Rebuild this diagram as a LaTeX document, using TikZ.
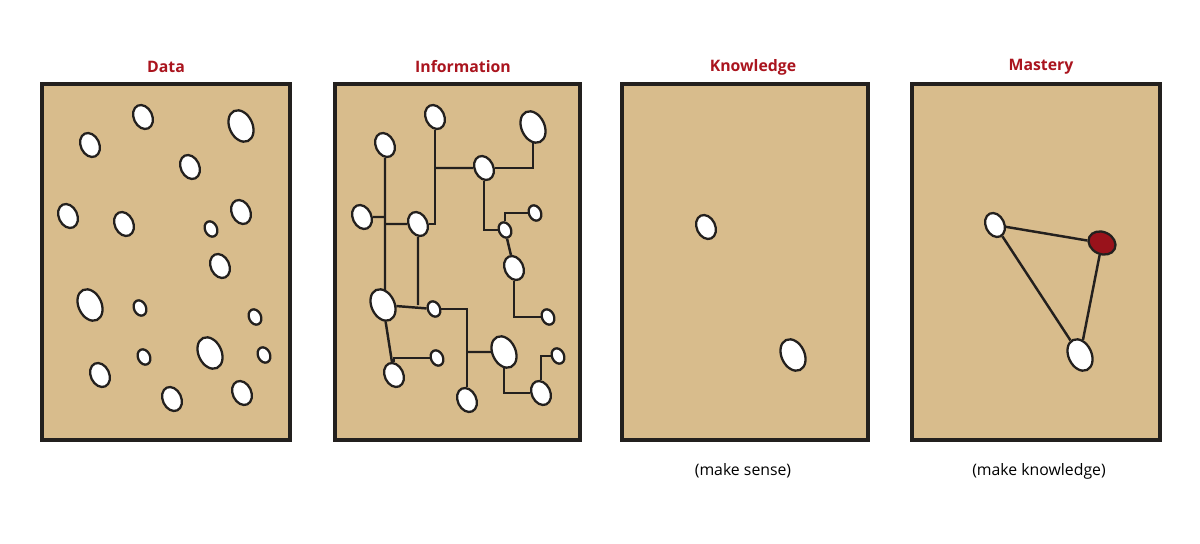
\documentclass[tikz,border=0pt]{standalone}
\usepackage{fontspec}
\setmainfont{Open Sans}
\usetikzlibrary{shapes.geometric}
\definecolor{paper}{RGB}{216,188,140}
\definecolor{titlered}{RGB}{170,20,30}
\definecolor{ink}{RGB}{35,32,30}
\pgfdeclarelayer{bg}
\pgfdeclarelayer{back}
\pgfsetlayers{bg,back,main}
\begin{document}
\begin{tikzpicture}[
    x=0.02cm, y=-0.02cm,
    panel/.style={fill=paper, draw=ink, line width=1.8pt},
    title/.style={font=\bfseries\small, text=titlered},
    caption/.style={font=\small},
    dot/.style={ellipse, draw=ink, line width=1.3pt, fill=white, inner sep=0pt,
        minimum width=0.37cm, minimum height=0.5cm, rotate=25},
    small dot/.style={dot, minimum width=0.24cm, minimum height=0.32cm},
    big dot/.style={dot, minimum width=0.46cm, minimum height=0.66cm},
    link/.style={draw=ink, line width=1.4pt}
    ]
    \useasboundingbox (0,0) rectangle (1200,544);
    % panels
    \begin{pgfonlayer}{bg}
    \draw[panel] (42,84) rectangle (290,440);
    \draw[panel] (335,84) rectangle (580,440);
    \draw[panel] (622,84) rectangle (868,440);
    \draw[panel] (912,84) rectangle (1160,440);
    \end{pgfonlayer}
    % titles
    \node[title] (tdata) at (166,67) {Data};
    \node[title] (tinfo) at (463,67) {Information};
    \node[title] (tknow) at (753,67) {Knowledge};
    \node[title] (tmast) at (1041,67) {Mastery};
    \node[caption] (csense) at (743,471) {(make sense)};
    \node[caption] (cknow) at (1039,471) {(make knowledge)};
    % Data
    \node[dot] (d1) at (90,145) {};
    \node[dot] (d2) at (143,117) {};
    \node[big dot] (d3) at (241,126) {};
    \node[dot] (d4) at (190,167) {};
    \node[dot] (d5) at (68,216) {};
    \node[dot] (d6) at (124,224) {};
    \node[dot] (d7) at (241,212) {};
    \node[small dot] (d8) at (211,229) {};
    \node[dot] (d9) at (220,266) {};
    \node[big dot] (d10) at (90,305) {};
    \node[small dot] (d11) at (140,308) {};
    \node[small dot] (d12) at (255,317) {};
    \node[big dot] (d13) at (210,353) {};
    \node[small dot] (d14) at (264,355) {};
    \node[small dot] (d15) at (144,357) {};
    \node[dot] (d16) at (100,375) {};
    \node[dot] (d17) at (172,399) {};
    \node[dot] (d18) at (242,393) {};
    % Information
    \node[dot] (a) at (385,145) {};
    \node[dot] (b) at (435,117) {};
    \node[big dot] (c) at (533,127) {};
    \node[dot] (d) at (484,168) {};
    \node[dot] (e) at (362,217) {};
    \node[dot] (f) at (418,224) {};
    \node[small dot] (g) at (535,213) {};
    \node[small dot] (h) at (505,230) {};
    \node[dot] (i) at (514,268) {};
    \node[big dot] (j) at (383,305) {};
    \node[small dot] (k) at (434,309) {};
    \node[small dot] (l) at (548,317) {};
    \node[big dot] (m) at (504,352) {};
    \node[small dot] (n) at (558,356) {};
    \node[small dot] (o) at (437,358) {};
    \node[dot] (p) at (394,375) {};
    \node[dot] (q) at (541,393) {};
    \node[dot] (r) at (467,400) {};
    \begin{pgfonlayer}{back}
    \draw[link] (a) -- (a |- j);
    \draw[link] (e) -- (e -| a);
    \draw[link] (f) -- (f -| a);
    \draw[link] (b) |- (f);
    \draw[link] (d) -- (d -| b);
    \draw[link] (d) -| (c);
    \draw[link] (d) |- (h);
    \draw[link] (g) -| (h);
    \draw[link] (h) -- (i);
    \draw[link] (i) |- (l);
    \draw[link] (f) -- (f |- j);
    \draw[link] (j) -- (k);
    \draw[link] (k) -| (r);
    \draw[link] (m) -- (m -| r);
    \draw[link] (j) -- (p);
    \draw[link] (o) -| (p);
    \draw[link] (m) |- (q);
    \draw[link] (q) |- (n);
    \end{pgfonlayer}
    % Knowledge
    \node[dot] (k1) at (706,227) {};
    \node[big dot] (k2) at (793,355) {};
    % Mastery
    \node[dot] (m1) at (995,225) {};
    \node[dot, fill=titlered!90!black, minimum width=0.44cm, minimum height=0.56cm, rotate=40] (m2) at (1102,243) {};
    \node[big dot] (m3) at (1080,355) {};
    \begin{pgfonlayer}{back}
    \draw[link] (m1) -- (m2) -- (m3) -- (m1);
    \end{pgfonlayer}
\end{tikzpicture}
\end{document}
